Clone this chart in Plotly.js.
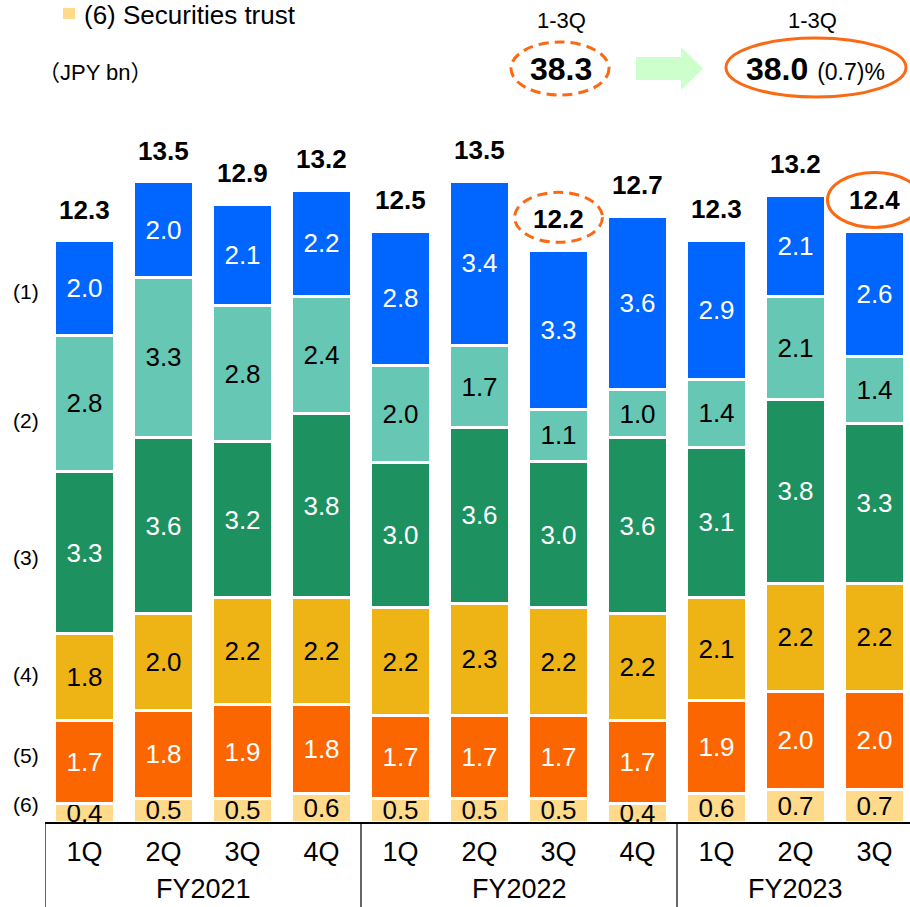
<!DOCTYPE html>
<html><head><meta charset="utf-8">
<script src="https://cdn.plot.ly/plotly-3.0.1.min.js"></script>
<style>html,body{margin:0;padding:0;background:#fff}</style>
</head><body><div id="chart" style="width:910px;height:907px"></div>
<script>
// ---- data ----
const quarters = ["1Q","2Q","3Q","4Q","1Q","2Q","3Q","4Q","1Q","2Q","3Q"];
const fiscalYears = ["FY2021","FY2022","FY2023"];
const quartersPerYear = [4,4,3];
const seriesNames = ["(1)","(2)","(3)","(4)","(5)","(6)"];
// segment heights (JPY bn)
const s1 = [1.99,2.02,2.13,2.24,2.83,3.47,3.35,3.66,2.94,2.14,2.63];
const s2 = [2.88,3.38,2.88,2.47,2.04,1.73,1.11,1.01,1.42,2.16,1.42];
const s3 = [3.41,3.72,3.29,3.89,3.07,3.70,3.08,3.72,3.18,3.89,3.38];
const s4 = [1.83,2.03,2.26,2.26,2.27,2.37,2.27,2.24,2.16,2.27,2.27];
const s5 = [1.75,1.86,1.97,1.87,1.75,1.75,1.75,1.75,1.97,2.07,2.07];
const s6 = [0.40,0.50,0.50,0.60,0.50,0.50,0.50,0.40,0.60,0.69,0.69];
// printed labels
const l1 = ["2.0","2.0","2.1","2.2","2.8","3.4","3.3","3.6","2.9","2.1","2.6"];
const l2 = ["2.8","3.3","2.8","2.4","2.0","1.7","1.1","1.0","1.4","2.1","1.4"];
const l3 = ["3.3","3.6","3.2","3.8","3.0","3.6","3.0","3.6","3.1","3.8","3.3"];
const l4 = ["1.8","2.0","2.2","2.2","2.2","2.3","2.2","2.2","2.1","2.2","2.2"];
const l5 = ["1.7","1.8","1.9","1.8","1.7","1.7","1.7","1.7","1.9","2.0","2.0"];
const l6 = ["0.4","0.5","0.5","0.6","0.5","0.5","0.5","0.4","0.6","0.7","0.7"];
const totalLabels = ["12.3","13.5","12.9","13.2","12.5","13.5","12.2","12.7","12.3","13.2","12.4"];
const legendLabel = "(6) Securities trust";
const unitLabel = "（JPY bn）";
const periodLabel = "1-3Q";
const prevCumulative = "38.3";
const currCumulative = "38.0";
const changePct = "(0.7)%";
const prevHighlightBar = 6;   // 3Q FY2022
const currHighlightBar = 10;  // 3Q FY2023

// ---- styling ----
const FONT = "Liberation Sans, Arial, sans-serif";
const colors = ["#0066FF","#66C8B4","#1E9160","#EEB416","#FC6600","#FFDA8B"];
const textColors = ["#FFFFFF","#000000","#FFFFFF","#000000","#FFFFFF","#000000"];
const segs = [s1,s2,s3,s4,s5,s6];
const labs = [l1,l2,l3,l4,l5,l6];
const xs = quarters.map((_, i) => i);

const traces = [];
for (let k = 5; k >= 0; k--) {
  traces.push({
    type: "bar", x: xs, y: segs[k], name: seriesNames[k],
    text: labs[k], textposition: "inside", insidetextanchor: "middle",
    textangle: 0, constraintext: "none", cliponaxis: false,
    textfont: {family: FONT, size: 26, color: textColors[k]},
    marker: {color: colors[k], line: {color: "#FFFFFF", width: 3}},
    hoverinfo: "skip"
  });
}
const totals = xs.map(i => segs.reduce((a, s) => a + s[i], 0));

// pixel -> paper helpers (plot area: x 45..910, y 122..822)
const L = 45, W = 865, T = 122, H = 700, B = T + H;
const pxX = p => (p - L) / W;
const pxY = p => (B - p) / H;

const annotations = [];
xs.forEach(i => annotations.push({
  x: i, y: totals[i], xref: "x", yref: "y", text: "<b>" + totalLabels[i] + "</b>",
  showarrow: false, yanchor: "middle", yshift: 31,
  font: {family: FONT, size: 26, color: "#000"}
}));
// fiscal year group labels
let start = 0;
const dividers = [];
fiscalYears.forEach((fy, g) => {
  const n = quartersPerYear[g];
  dividers.push(start - 0.5);
  annotations.push({
    x: start + (n - 1) / 2, y: pxY(889), xref: "x", yref: "paper", text: fy,
    showarrow: false, yanchor: "middle", font: {family: FONT, size: 27, color: "#000"}
  });
  start += n;
});
// series labels on the left
const leftLabelY = [11.2, 8.48, 5.59, 3.12, 1.41, 0.36];
seriesNames.forEach((s, k) => annotations.push({
  x: 0, xref: "paper", xshift: -19, y: leftLabelY[k], yref: "y", text: s,
  showarrow: false, xanchor: "center", yanchor: "middle",
  font: {family: FONT, size: 21, color: "#000"}
}));
// header texts
annotations.push(
  {x: pxX(82), y: pxY(15), xref: "paper", yref: "paper", text: legendLabel, showarrow: false,
   xanchor: "left", yanchor: "middle", font: {family: FONT, size: 26, color: "#000"}},
  {x: pxX(36), y: pxY(72), xref: "paper", yref: "paper", text: unitLabel, showarrow: false,
   xanchor: "left", yanchor: "middle", font: {family: "Liberation Sans, Noto Sans CJK JP, sans-serif", size: 22, color: "#000"}},
  {x: pxX(561), y: pxY(21), xref: "paper", yref: "paper", text: periodLabel, showarrow: false,
   xanchor: "center", yanchor: "middle", font: {family: FONT, size: 22, color: "#000"}},
  {x: pxX(812), y: pxY(21), xref: "paper", yref: "paper", text: periodLabel, showarrow: false,
   xanchor: "center", yanchor: "middle", font: {family: FONT, size: 22, color: "#000"}},
  {x: pxX(561), y: pxY(69), xref: "paper", yref: "paper", text: "<b>" + prevCumulative + "</b>", showarrow: false,
   xanchor: "center", yanchor: "middle", font: {family: FONT, size: 32, color: "#000"}},
  {x: pxX(744), y: pxY(69), xref: "paper", yref: "paper",
   text: "<b>" + currCumulative + "</b> <span style='font-size:23px'>" + changePct + "</span>", showarrow: false,
   xanchor: "left", yanchor: "middle", font: {family: FONT, size: 32, color: "#000"}}
);

const ORANGE = "#FA6A14";
const shapes = [];
dividers.forEach(d => shapes.push({
  type: "line", xref: "x", yref: "paper", x0: d, x1: d, y0: 0, y1: pxY(915),
  line: {color: "#000", width: 1.2}
}));
// legend swatch
shapes.push({type: "rect", xref: "paper", yref: "paper", x0: pxX(63), x1: pxX(75), y0: pxY(8), y1: pxY(19),
  fillcolor: colors[5], line: {width: 0}});
// header ellipses
shapes.push({type: "circle", xref: "paper", yref: "paper", x0: pxX(511), x1: pxX(609), y0: pxY(42), y1: pxY(95),
  line: {color: ORANGE, width: 3, dash: "10px,6px"}});
shapes.push({type: "circle", xref: "paper", yref: "paper", x0: pxX(726), x1: pxX(906), y0: pxY(38), y1: pxY(97),
  line: {color: ORANGE, width: 3}});
// header arrow
const arrowPts = [[636,57],[681,57],[681,47],[703,68.5],[681,90],[681,80],[636,80]];
shapes.push({type: "path", xref: "paper", yref: "paper",
  path: "M" + arrowPts.map(p => pxX(p[0]) + "," + pxY(p[1])).join(" L") + " Z",
  fillcolor: "#CCFFCC", line: {width: 0}});
// highlight ellipses around totals
shapes.push({type: "circle", xref: "x", yref: "y", xsizemode: "pixel", ysizemode: "pixel",
  xanchor: prevHighlightBar, yanchor: totals[prevHighlightBar], x0: -44, x1: 44, y0: 8, y1: 58,
  line: {color: ORANGE, width: 3, dash: "10px,6px"}});
shapes.push({type: "circle", xref: "x", yref: "y", xsizemode: "pixel", ysizemode: "pixel",
  xanchor: currHighlightBar, yanchor: totals[currHighlightBar], x0: -47, x1: 47, y0: 4, y1: 59,
  line: {color: ORANGE, width: 3}});

const layout = {
  width: 910, height: 907,
  margin: {l: L, r: 910 - L - W, t: T, b: 907 - B, pad: 0},
  paper_bgcolor: "#fff", plot_bgcolor: "#fff",
  barmode: "stack", bargap: 0.237, showlegend: false,
  font: {family: FONT, color: "#000"},
  xaxis: {range: [-0.5, -0.5 + W / 79], tickvals: xs, ticktext: quarters, tickmode: "array",
    showline: true, linecolor: "#000", linewidth: 1.5, ticks: "", ticklabelstandoff: 5,
    tickfont: {family: FONT, size: 27, color: "#000"}, showgrid: false, zeroline: false, fixedrange: true},
  yaxis: {range: [0, H / 47.4], visible: false, fixedrange: true},
  annotations: annotations, shapes: shapes, hovermode: false
};
Plotly.newPlot("chart", traces, layout, {staticPlot: true, displayModeBar: false});
</script></body></html>
